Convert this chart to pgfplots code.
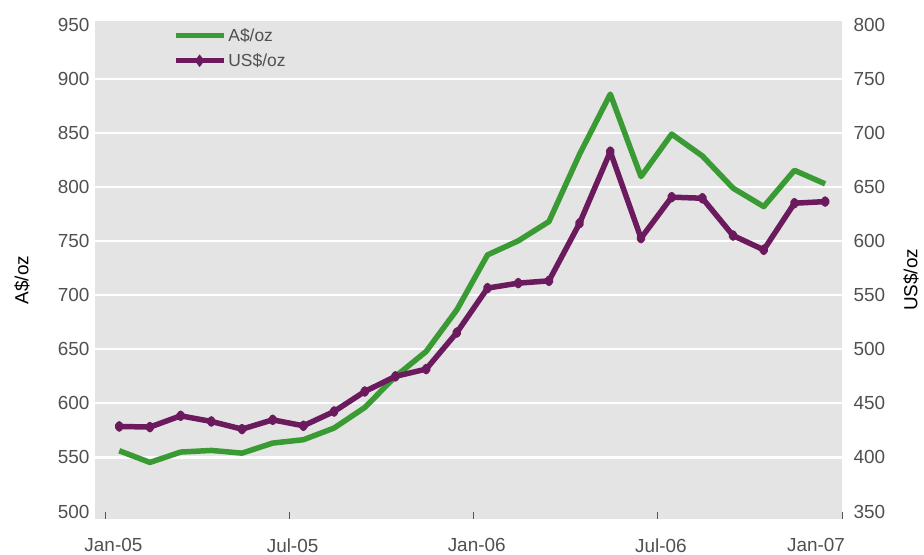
\documentclass[border=0pt]{standalone}
\usepackage{fontspec}
\setmainfont{Liberation Sans}
\usepackage{pgfplots}
\pgfplotsset{compat=1.18}
\definecolor{audgreen}{HTML}{3A9A33}
\definecolor{usdplum}{HTML}{6B1A5E}
\definecolor{panel}{HTML}{E3E4E3}
\definecolor{labgray}{HTML}{505050}
\definecolor{tickgray}{HTML}{555555}

% monthly averages, x = months since Jan-05 (plotted mid-month)
\pgfplotstableread{
x     aud
0.45  556.2
1.45  545.4
2.45  555.0
3.45  556.5
4.45  554.0
5.45  563.3
6.45  566.4
7.45  577.2
8.45  596.2
9.45  624.9
10.45 648.0
11.45 686.5
12.45 737.3
13.45 750.3
14.45 768.1
15.45 830.5
16.45 886.0
17.45 809.7
18.45 849.0
19.45 828.8
20.45 799.0
21.45 782.0
22.45 815.5
23.45 803.0
}\audtable
\pgfplotstableread{
x     usd
0.45  428.7
1.45  428.1
2.45  438.5
3.45  433.3
4.45  426.2
5.45  434.8
6.45  429.3
7.45  442.5
8.45  461.0
9.45  475.0
10.45 481.7
11.45 515.5
12.45 556.6
13.45 561.2
14.45 563.3
15.45 616.6
16.45 682.8
17.45 602.8
18.45 640.7
19.45 639.7
20.45 605.2
21.45 592.0
22.45 635.1
23.45 636.6
}\usdtable

\begin{document}
\begin{tikzpicture}
\useasboundingbox (-95bp,-36bp) rectangle (829bp,519bp);

\pgfplotsset{
  common/.style={
    at={(0,0)}, anchor=south west,
    width=747bp, height=498bp, scale only axis,
    xmin=-0.34, xmax=24,
    axis line style={draw=none},
    y tick style={draw=none},
    /pgf/number format/assume math mode=true,
    tick label style={font=\fontsize{19}{22}\selectfont, text=labgray},
  },
}

% ---------------- left axis: A$/oz
\begin{axis}[
  common,
  ymin=493.1, ymax=953.6,
  axis background/.style={fill=panel},
  xtick={0,6,12,18,24},
  xticklabels={\hspace*{10bp}Jan-05, Jul-05, Jan-06, Jul-06,
               {\raisebox{8bp}{\makebox[0pt][r]{Jan-07}}}},
  xticklabel style={xshift=3bp, yshift=-16bp},
  xtick pos=lower, tick align=inside, major tick length=7bp,
  x tick style={draw=tickgray, line width=0.9bp},
  ytick={550,600,...,900},
  extra y ticks={500,950},
  extra y tick style={ymajorgrids=false},
  ymajorgrids, grid style={white, line width=2.2bp},
  ytick pos=left,
  yticklabel style={xshift=-2bp},
  ylabel={A\$/oz},
  every axis y label/.style={at={(axis description cs:0,0.48)}, rotate=90,
    anchor=center, yshift=73bp, font=\fontsize{19}{22}\selectfont},
  legend style={at={(axis description cs:0.104,0.99)}, anchor=north west,
    draw=none, fill=none, font=\fontsize{17.5}{20}\selectfont, text=labgray,
    row sep=7bp, inner sep=0pt},
  legend cell align=left,
  legend image code/.code={\draw[mark repeat=2,mark phase=2,#1]
    plot coordinates {(0bp,0bp) (24bp,0bp) (48bp,0bp)};},
]
\addplot[audgreen, line width=5.5bp, line join=round] table[x=x, y=aud] {\audtable};
\addlegendentry{A\$/oz}
\addlegendimage{usdplum, line width=5.5bp, mark=diamond*, mark size=1.8pt}
\addlegendentry{US\$/oz}
\end{axis}

% ---------------- right axis: US$/oz
\begin{axis}[
  common,
  ymin=343.1, ymax=803.6,
  hide x axis,
  ytick={350,400,...,800},
  ytick pos=right,
  yticklabel style={xshift=8bp},
  ylabel={US\$/oz},
  every axis y label/.style={at={(axis description cs:1,0.48)}, rotate=90,
    anchor=center, yshift=-69bp, font=\fontsize{19}{22}\selectfont},
]
\addplot[usdplum, line width=5.5bp, line join=round, mark=diamond*, mark size=2.6pt]
  table[x=x, y=usd] {\usdtable};
\end{axis}
\end{tikzpicture}
\end{document}
